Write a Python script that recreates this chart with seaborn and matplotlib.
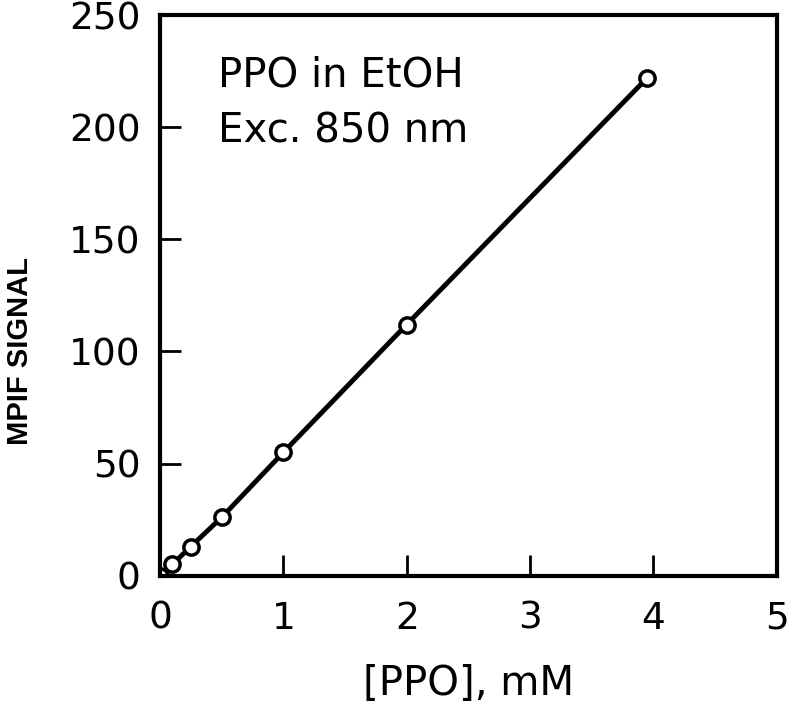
import matplotlib
matplotlib.use('Agg')
import matplotlib.pyplot as plt
import seaborn as sns
import pandas as pd

# values
ppo_mM = [0.0, 0.1, 0.25, 0.5, 1.0, 2.0, 3.95]
mpif_signal = [0, 5, 13, 26, 55, 112, 222]
x_ticks = [0, 1, 2, 3, 4, 5]
y_ticks = [0, 50, 100, 150, 200, 250]

df = pd.DataFrame({'ppo': ppo_mM, 'signal': mpif_signal})

sns.set_style('white')
plt.rcParams['font.family'] = ['DejaVu Sans']
plt.rcParams['text.color'] = 'black'
plt.rcParams['axes.labelcolor'] = 'black'
plt.rcParams['xtick.color'] = 'black'
plt.rcParams['ytick.color'] = 'black'

fig = plt.figure(figsize=(8, 7.16), dpi=100)
ax = fig.add_axes([0.2, 0.196, 0.771, 0.783])

sns.lineplot(data=df, x='ppo', y='signal', ax=ax, color='black', linewidth=3.5,
             marker='o', markersize=11, markerfacecolor='white',
             markeredgecolor='black', markeredgewidth=2.5)

ax.set_xlim(0, 5)
ax.set_ylim(0, 250)
ax.set_xticks(x_ticks)
ax.set_yticks(y_ticks)
ax.tick_params(direction='in', length=15, width=2, labelsize=27,
               top=False, right=False, bottom=True, left=True)
ax.tick_params(axis='x', pad=18)
ax.tick_params(axis='y', pad=14)
for s in ax.spines.values():
    s.set_linewidth(3)
    s.set_color('black')

ax.set_xlabel('[PPO], mM', fontsize=29, labelpad=20)
ax.set_ylabel('MPIF SIGNAL', fontsize=21, fontweight='bold',
              family='Liberation Sans')
ax.yaxis.set_label_coords(-0.204, 0.40)

ax.text(0.094, 0.893, 'PPO in EtOH', transform=ax.transAxes, fontsize=29,
        va='center', ha='left')
ax.text(0.094, 0.793, 'Exc. 850 nm', transform=ax.transAxes, fontsize=29,
        va='center', ha='left')

fig.savefig('out.png', dpi=100)
